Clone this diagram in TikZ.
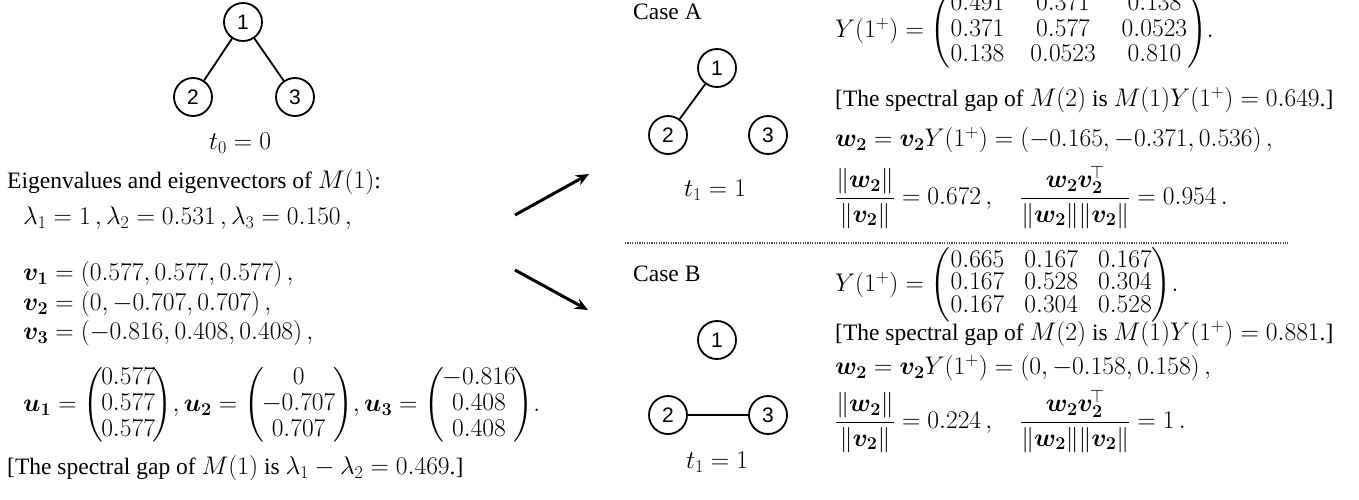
\RequirePackage{fix-cm}
\documentclass[tikz,border=0pt]{standalone}
\usepackage{amsmath,bm}
\usepackage{fontspec}
\setmainfont{Liberation Serif}
\newfontfamily\arialfont{Liberation Sans}
\usetikzlibrary{arrows.meta}
\DeclareMathSizes{23.5}{25.5}{18}{13}
\newcommand\fs{\fontsize{23.5}{27}\selectfont}
\newenvironment{tightpm}{\renewcommand\arraystretch{0.96}\left(\mkern-1.5mu\begin{matrix}}{\end{matrix}\mkern-1.5mu\right)}
\tikzset{
  txt/.style={anchor=west, inner sep=0pt, font=\fs},
  ctxt/.style={anchor=center, inner sep=0pt, font=\fs},
  vtx/.style={circle, draw, line width=1.8pt, minimum size=38pt, inner sep=0pt, font=\arialfont\fontsize{21}{21}\selectfont},
  edge/.style={line width=1.8pt},
  bigarrow/.style={line width=3pt, -{Stealth[length=13pt,width=11pt]}},
  sep/.style={line width=1.2pt, black!70, dash pattern=on 1.2pt off 1.2pt},
}
\begin{document}
\begin{tikzpicture}[x=1pt,y=-1pt]
\useasboundingbox (0,0) rectangle (1359,499);
\clip (0,0) rectangle (1359,499);
% top tree
\node[vtx] (r1) at (243,22) {1};
\node[vtx] (r2) at (193,97) {2};
\node[vtx] (r3) at (295,97) {3};
\draw[edge] (r1) -- (r2);
\draw[edge] (r1) -- (r3);
\node[ctxt] (t0) at (240,143) {$t_0 = 0$};
% left text
\node[txt] (eig) at (7,182) {Eigenvalues and eigenvectors of $M(1)$:};
\node[txt] (lam) at (23,218) {$\lambda_1 = 1\,, \lambda_2 = 0.531\,, \lambda_3 = 0.150\,,$};
\node[txt] (v1) at (23,274) {$\bm{v_1} = (0.577, 0.577, 0.577)\,,$};
\node[txt] (v2) at (23,304) {$\bm{v_2} = (0, -0.707, 0.707)\,,$};
\node[txt] (v3) at (23,333) {$\bm{v_3} = (-0.816, 0.408, 0.408)\,,$};
\node[txt] (u) at (23,405) {$\bm{u_1} = \begin{tightpm}0.577\\0.577\\0.577\end{tightpm}\!, \bm{u_2} = \begin{tightpm}0\\-0.707\\0.707\end{tightpm}\!, \bm{u_3} = \begin{tightpm}-0.816\\0.408\\0.408\end{tightpm}\!.$};
\node[txt] (gap1) at (7,468) {[The spectral gap of $M(1)$ is $\lambda_1 - \lambda_2 = 0.469$.]};
% arrows
\coordinate (a1s) at (515,215);
\coordinate (a1e) at (589,174);
\coordinate (a2s) at (515,270);
\coordinate (a2e) at (588,310);
\draw[bigarrow] (a1s) -- (a1e);
\draw[bigarrow] (a2s) -- (a2e);
% Case A
\node[txt] (caseA) at (633,12) {Case A};
\node[vtx] (A1) at (717,68) {1};
\node[vtx] (A2) at (668,135) {2};
\node[vtx] (A3) at (768,135) {3};
\draw[edge] (A1) -- (A2);
\node[ctxt] (tA) at (715,190) {$t_1 = 1$};
\node[txt] (YA) at (835,31) {$Y(1^{+}) = {\setlength\arraycolsep{13pt}\renewcommand\arraystretch{0.95}\begin{pmatrix}0.491 & 0.371 & 0.138\\ 0.371 & 0.577 & 0.0523\\ 0.138 & 0.0523 & 0.810\end{pmatrix}}.$};
\node[txt] (gapA) at (835,100) {[The spectral gap of $M(2)$ is $M(1)Y(1^{+}) = 0.649$.]};
\node[txt] (wA) at (835,140) {$\bm{w_2} = \bm{v_2}Y(1^{+}) = (-0.165, -0.371, 0.536)\,,$};
\node[txt] (fA) at (835,197) {$\dfrac{\|\bm{w_2}\|}{\|\bm{v_2}\|} = 0.672\,, \quad \dfrac{\bm{w_2}\bm{v_2}^{\!\top}}{\|\bm{w_2}\|\|\bm{v_2}\|} = 0.954\,.$};
% separator
\coordinate (sepL) at (625,243);
\coordinate (sepR) at (1288,243);
\draw[sep] (sepL) -- (sepR);
% Case B
\node[txt] (caseB) at (633,274) {Case B};
\node[vtx] (B1) at (717,340) {1};
\node[vtx] (B2) at (668,415) {2};
\node[vtx] (B3) at (768,415) {3};
\draw[edge] (B2) -- (B3);
\node[ctxt] (tB) at (717,462) {$t_1 = 1$};
\node[txt] (YB) at (835,285) {$Y(1^{+}) = {\setlength\arraycolsep{10pt}\renewcommand\arraystretch{0.8}\begin{pmatrix}0.665 & 0.167 & 0.167\\ 0.167 & 0.528 & 0.304\\ 0.167 & 0.304 & 0.528\end{pmatrix}}.$};
\node[txt] (gapB) at (835,334) {[The spectral gap of $M(2)$ is $M(1)Y(1^{+}) = 0.881$.]};
\node[txt] (wB) at (835,368) {$\bm{w_2} = \bm{v_2}Y(1^{+}) = (0, -0.158, 0.158)\,,$};
\node[txt] (fB) at (835,421) {$\dfrac{\|\bm{w_2}\|}{\|\bm{v_2}\|} = 0.224\,, \quad \dfrac{\bm{w_2}\bm{v_2}^{\!\top}}{\|\bm{w_2}\|\|\bm{v_2}\|} = 1\,.$};
\end{tikzpicture}
\end{document}
